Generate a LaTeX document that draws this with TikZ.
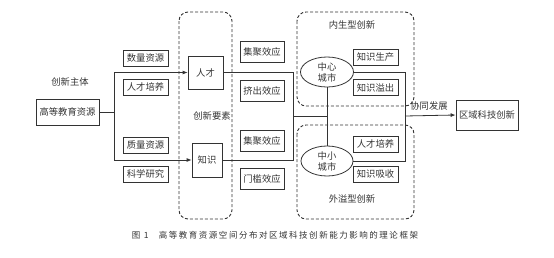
\documentclass[tikz,border=0pt]{standalone}
\usepackage{fontspec}
\setmainfont{Noto Sans CJK SC}
\newfontfamily\capfont[LetterSpace=18]{Noto Sans CJK SC}
\usetikzlibrary{arrows.meta,shapes.geometric}
\definecolor{inkcol}{HTML}{333333}

\begin{document}
\begin{tikzpicture}[x=1pt, y=-1pt, font=\fontsize{9.3}{10.5}\selectfont, inkcol,
  every path/.style={line width=0.8pt},
  tagbox/.style={draw, inner sep=0pt, minimum width=45pt, minimum height=16pt},
  effbox/.style={draw, inner sep=0pt, minimum width=44pt, minimum height=21pt},
  groupbox/.style={draw, dash pattern=on 3pt off 2pt, rounded corners=9pt, line width=0.9pt},
  arr/.style={-{Latex[length=5pt,width=4pt]}}]
\useasboundingbox (0,0) rectangle (554,257);

% innovation subject
\node (subj) at (70,82) {创新主体};
\node[draw, inner sep=0pt, minimum width=63pt, minimum height=26pt] (src) at (67.5,112) {高等教育资源};
\foreach \n/\txt/\y in {t1/数量资源/58,t2/人才培养/87,t3/质量资源/145,t4/科学研究/174}{
  \node[tagbox] (\n) at (145.5,\y) {\txt};
}

% innovation factors
\draw[groupbox] (179,12) rectangle (232,219);
\node (fac) at (212,116) {创新要素};
\node[draw, inner sep=0pt, minimum width=35pt, minimum height=33pt] (rc) at (205.5,72.5) {人才};
\node[draw, inner sep=0pt, minimum width=30pt, minimum height=34pt] (zs) at (207,160) {知识};

\foreach \n/\txt/\y in {e1/集聚效应/51.5,e2/挤出效应/91,e3/集聚效应/140.5,e4/门槛效应/179}{
  \node[effbox] (\n) at (262,\y) {\txt};
}

% city groups
\draw[groupbox] (297,12) rectangle (414,106);
\node (endo) at (352,25) {内生型创新};
\draw[groupbox] (297,125) rectangle (414,219);
\node (exo) at (352,199) {外溢型创新};
\node[draw, ellipse, inner sep=0pt, minimum width=53pt, minimum height=30pt, align=center, font=\fontsize{9.3}{11}\selectfont] (zx) at (327,72) {中心\\城市};
\node[draw, ellipse, inner sep=0pt, minimum width=52pt, minimum height=30pt, align=center, font=\fontsize{9.3}{11}\selectfont] (zxs) at (327,161) {中小\\城市};
\foreach \n/\txt/\y in {c1/知识生产/57,c2/知识溢出/87.5,c3/人才培养/144,c4/知识吸收/174}{
  \node[tagbox] (\n) at (375.5,\y) {\txt};
}

\node[draw, inner sep=0pt, minimum width=62pt, minimum height=30pt] (out) at (487,115) {区域科技创新};
\node (syn) at (429,106) {协同发展};

% connectors
\coordinate (j1) at (114,112);
\coordinate (j2) at (293,116);
\coordinate (j3) at (327,116);
\coordinate (j4) at (405,116);
\draw (src.east) -- (j1);
\draw[arr] (j1) |- (rc.west);
\draw[arr] (j1) |- (zs.west);
\draw (rc.east) -| (j2);
\draw (zs.east) -| (j2);
\draw (j2) -- (j3);
\draw (zx.south) -- (zxs.north);
\draw (zx.east) -| (j4);
\draw (zxs.east) -| (j4);
\draw[arr] (j4) -- (out.west);

\node[font=\capfont\fontsize{8.5}{10}\selectfont] (cap) at (275,235) {图 1\hspace{1.2em}高等教育资源空间分布对区域科技创新能力影响的理论框架};
\end{tikzpicture}
\end{document}
